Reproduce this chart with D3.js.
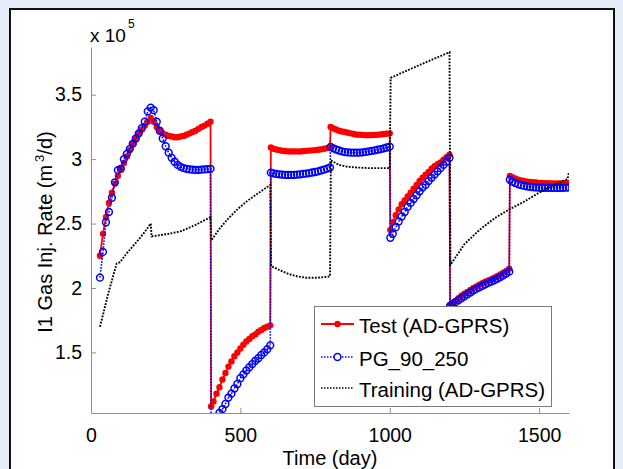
<!DOCTYPE html>
<html>
<head>
<meta charset="utf-8">
<script src="https://cdn.jsdelivr.net/npm/d3@7"></script>
<style>
  html, body { margin: 0; padding: 0; background: #e4edf8; }
  svg { display: block; }
  text { font-family: "Liberation Sans", Arial, sans-serif; }
</style>
</head>
<body>
<svg id="chart" width="623" height="469"></svg>
<script>
// time steps (day) of Test and PG runs
const days = [
  30, 40, 50, 60, 70, 80, 90, 100, 110, 120, 130, 140, 150, 160, 170, 180, 190, 200,
  210, 220, 230, 240, 250, 260, 270, 280, 290, 300, 310, 320, 330, 340, 350, 360, 370, 380, 390, 400,
  402, 410, 420, 430, 440, 450, 460, 470, 480, 490, 500, 510, 520, 530, 540, 550, 560, 570, 580, 590, 600,
  602, 610, 620, 630, 640, 650, 660, 670, 680, 690, 700, 710, 720, 730, 740, 750, 760, 770, 780, 790, 800,
  802, 810, 820, 830, 840, 850, 860, 870, 880, 890, 900, 910, 920, 930, 940, 950, 960, 970, 980, 990, 1000,
  1002, 1010, 1020, 1030, 1040, 1050, 1060, 1070, 1080, 1090, 1100, 1110, 1120, 1130, 1140, 1150, 1160, 1170, 1180, 1190, 1200,
  1202, 1210, 1220, 1230, 1240, 1250, 1260, 1270, 1280, 1290, 1300, 1310, 1320, 1330, 1340, 1350, 1360, 1370, 1380, 1390, 1400,
  1402, 1410, 1420, 1430, 1440, 1450, 1460, 1470, 1480, 1490, 1500, 1510, 1520, 1530, 1540, 1550, 1560, 1570, 1580, 1590, 1600
];

// Test (AD-GPRS), x 10^5 m3/d
const testRate = [
  2.25, 2.42, 2.55, 2.66, 2.74, 2.81, 2.87, 2.93, 2.97, 3.02, 3.07, 3.12, 3.16, 3.20, 3.23, 3.26, 3.29, 3.32,
  3.29, 3.25, 3.22, 3.20, 3.19, 3.18, 3.175, 3.17, 3.17, 3.175, 3.18, 3.19, 3.20, 3.21, 3.22, 3.235, 3.25, 3.26, 3.275, 3.29,
  1.08, 1.12, 1.18, 1.23, 1.29, 1.34, 1.39, 1.43, 1.47, 1.50, 1.53, 1.56, 1.585, 1.605, 1.625, 1.64, 1.66, 1.675, 1.69, 1.70, 1.71,
  3.09, 3.08, 3.075, 3.07, 3.065, 3.063, 3.06, 3.06, 3.06, 3.06, 3.06, 3.062, 3.064, 3.066, 3.068, 3.07, 3.073, 3.076, 3.08, 3.085, 3.09,
  3.25, 3.24, 3.23, 3.22, 3.215, 3.21, 3.205, 3.20, 3.195, 3.19, 3.19, 3.188, 3.186, 3.186, 3.187, 3.188, 3.19, 3.192, 3.195, 3.197, 3.20,
  2.45, 2.51, 2.565, 2.61, 2.65, 2.68, 2.71, 2.74, 2.77, 2.80, 2.83, 2.855, 2.88, 2.90, 2.925, 2.945, 2.96, 2.975, 2.995, 3.015, 3.035,
  1.87, 1.885, 1.90, 1.92, 1.94, 1.955, 1.97, 1.985, 2.00, 2.012, 2.025, 2.037, 2.048, 2.058, 2.068, 2.08, 2.092, 2.105, 2.118, 2.132, 2.15,
  2.87, 2.86, 2.85, 2.84, 2.835, 2.83, 2.825, 2.822, 2.82, 2.818, 2.816, 2.815, 2.814, 2.813, 2.812, 2.812, 2.812, 2.812, 2.813, 2.814, 2.815
];

// PG_90_250
const pgRate = [
  2.08, 2.28, 2.51, 2.59, 2.70, 2.82, 2.915, 2.925, 3.00, 3.04, 3.08, 3.12, 3.16, 3.20, 3.24, 3.29, 3.37, 3.40,
  3.38, 3.29, 3.22, 3.16, 3.10, 3.05, 3.01, 2.98, 2.955, 2.94, 2.93, 2.925, 2.92, 2.918, 2.917, 2.917, 2.918, 2.92, 2.922, 2.925,
  0.95, 0.97, 1.00, 1.03, 1.06, 1.10, 1.15, 1.18, 1.22, 1.255, 1.30, 1.33, 1.36, 1.385, 1.41, 1.435, 1.455, 1.48, 1.50, 1.525, 1.555,
  2.895, 2.89, 2.885, 2.882, 2.88, 2.878, 2.877, 2.877, 2.878, 2.88, 2.882, 2.885, 2.888, 2.892, 2.896, 2.90, 2.905, 2.912, 2.918, 2.926, 2.935,
  3.095, 3.085, 3.075, 3.067, 3.06, 3.055, 3.052, 3.05, 3.05, 3.05, 3.051, 3.053, 3.056, 3.06, 3.064, 3.068, 3.073, 3.078, 3.084, 3.09, 3.097,
  2.39, 2.42, 2.47, 2.515, 2.555, 2.59, 2.63, 2.66, 2.69, 2.72, 2.75, 2.78, 2.80, 2.83, 2.855, 2.88, 2.905, 2.93, 2.955, 2.98, 3.01,
  1.86, 1.875, 1.89, 1.905, 1.92, 1.935, 1.95, 1.965, 1.98, 1.993, 2.005, 2.017, 2.028, 2.04, 2.05, 2.06, 2.072, 2.085, 2.098, 2.112, 2.127,
  2.84, 2.825, 2.815, 2.805, 2.798, 2.792, 2.788, 2.785, 2.782, 2.78, 2.779, 2.778, 2.777, 2.777, 2.777, 2.777, 2.777, 2.778, 2.778, 2.779, 2.78
];

// Training (AD-GPRS)
const trainDays = [
  30, 41, 58, 75, 86, 97, 120, 150, 175, 200,
  203, 230, 260, 300, 350, 400,
  403, 430, 460, 490, 520, 550, 575, 600,
  603, 630, 660, 690, 720, 760, 800,
  803, 830, 860, 890, 930, 1000,
  1003, 1050, 1100, 1150, 1200,
  1203, 1250, 1300, 1350, 1400, 1450, 1500, 1550, 1595, 1600
];
const trainRate = [
  1.70, 1.80, 1.96, 2.10, 2.19, 2.20, 2.27, 2.35, 2.42, 2.50,
  2.40, 2.41, 2.42, 2.44, 2.49, 2.55,
  2.37, 2.46, 2.54, 2.61, 2.67, 2.72, 2.76, 2.80,
  2.17, 2.14, 2.11, 2.09, 2.08, 2.08, 2.09,
  2.99, 2.955, 2.94, 2.935, 2.93, 2.93,
  3.63, 3.68, 3.73, 3.78, 3.83,
  2.18, 2.34, 2.45, 2.54, 2.61, 2.67, 2.74, 2.80, 2.845, 2.90
];

const xTicks = [0, 500, 1000, 1500];
const yTicks = [1.5, 2, 2.5, 3, 3.5];
const legendNames = ['Test (AD-GPRS)', 'PG_90_250', 'Training (AD-GPRS)'];

const svg = d3.select('#chart');
const axisGray = '#8f8f8f';

// figure frame
svg.append('rect')
    .attr('x', 10).attr('y', 9)
    .attr('width', 604).attr('height', 470)
    .attr('fill', '#fff')
    .attr('stroke', '#111')
    .attr('stroke-width', 2);

const x = d3.scaleLinear().domain([0, 1600]).range([91, 569]);
const y = d3.scaleLinear().domain([1.03, 3.87]).range([413, 47]);

svg.append('clipPath').attr('id', 'plotClip')
    .append('rect')
    .attr('x', 91).attr('y', 47)
    .attr('width', 478).attr('height', 366);

// axes (left + bottom only, ticks inward)
const gx = svg.append('g')
    .attr('transform', 'translate(0,413)')
    .call(d3.axisBottom(x).tickValues(xTicks).tickSizeInner(-5).tickSizeOuter(0).tickPadding(15).tickFormat(d3.format('d')));
const gy = svg.append('g')
    .attr('transform', 'translate(91,0)')
    .call(d3.axisLeft(y).tickValues(yTicks).tickSizeInner(-5).tickSizeOuter(0).tickPadding(9).tickFormat(d => d));

[gx, gy].forEach(g => {
    g.select('.domain').attr('stroke', axisGray);
    g.selectAll('.tick line').attr('stroke', axisGray);
    g.selectAll('.tick text').attr('fill', '#000').attr('font-size', 19.5)
        .attr('font-family', '"Liberation Sans", Arial, sans-serif');
});

// multiplier
svg.append('text')
    .attr('x', 90).attr('y', 42)
    .attr('font-size', 19)
    .text('x 10')
    .append('tspan')
    .attr('dy', -14).attr('dx', 2)
    .attr('font-size', 12)
    .text('5');

// axis labels
const yl = svg.append('text')
    .attr('transform', 'translate(52,232) rotate(-90)')
    .attr('text-anchor', 'middle')
    .attr('font-size', 20)
    .text('I1 Gas Inj. Rate (m');
yl.append('tspan').attr('dx', 3).attr('dy', -8).attr('font-size', 13).text('3');
yl.append('tspan').attr('dy', 8).text('/d)');

svg.append('text')
    .attr('x', 330).attr('y', 465)
    .attr('text-anchor', 'middle')
    .attr('font-size', 20)
    .text('Time (day)');

// series
const plot = svg.append('g').attr('clip-path', 'url(#plotClip)');
const line = d3.line().x(d => x(d[0])).y(d => y(d[1]));

const testPts = days.map((d, i) => [d, testRate[i]]);
const pgPts = days.map((d, i) => [d, pgRate[i]]);
const trainPts = trainDays.map((d, i) => [d, trainRate[i]]);

plot.append('path').datum(testPts)
    .attr('d', line).attr('fill', 'none')
    .attr('stroke', '#ff0000').attr('stroke-width', 1.8);
plot.append('g').selectAll('circle').data(testPts).join('circle')
    .attr('cx', d => x(d[0])).attr('cy', d => y(d[1]))
    .attr('r', 3.2).attr('fill', '#ff0000');

plot.append('path').datum(pgPts)
    .attr('d', line).attr('fill', 'none')
    .attr('stroke', '#0000ff').attr('stroke-width', 1.6)
    .attr('stroke-dasharray', '1.6,1.4');
plot.append('g').selectAll('circle').data(pgPts).join('circle')
    .attr('cx', d => x(d[0])).attr('cy', d => y(d[1]))
    .attr('r', 3.4).attr('fill', 'none')
    .attr('stroke', '#0000ff').attr('stroke-width', 1.5);

plot.append('path').datum(trainPts)
    .attr('d', line).attr('fill', 'none')
    .attr('stroke', '#000').attr('stroke-width', 1.9)
    .attr('stroke-dasharray', '1.8,1.4');

// legend
const legend = svg.append('g');
legend.append('rect')
    .attr('x', 314.5).attr('y', 306.5)
    .attr('width', 237).attr('height', 100)
    .attr('fill', '#fff').attr('stroke', '#7a7a7a').attr('stroke-width', 1);

const rowY = [324, 357, 388];
const rows = legend.selectAll('g.row').data(legendNames).join('g')
    .attr('class', 'row')
    .attr('transform', (d, i) => `translate(0,${rowY[i]})`);

rows.append('line')
    .attr('x1', 321).attr('x2', 354)
    .attr('stroke', (d, i) => ['#ff0000', '#0000ff', '#000'][i])
    .attr('stroke-width', (d, i) => i === 0 ? 1.8 : 1.5)
    .attr('stroke-dasharray', (d, i) => i === 0 ? null : '1.5,1.5');
rows.filter((d, i) => i === 0).append('circle')
    .attr('cx', 337.5).attr('r', 3.2).attr('fill', '#ff0000');
rows.filter((d, i) => i === 1).append('circle')
    .attr('cx', 337.5).attr('r', 3.4).attr('fill', '#fff')
    .attr('stroke', '#0000ff').attr('stroke-width', 1.5);
rows.append('text')
    .attr('x', 359).attr('y', 1)
    .attr('dominant-baseline', 'central')
    .attr('font-size', 20.5)
    .text(d => d);
</script>
</body>
</html>
